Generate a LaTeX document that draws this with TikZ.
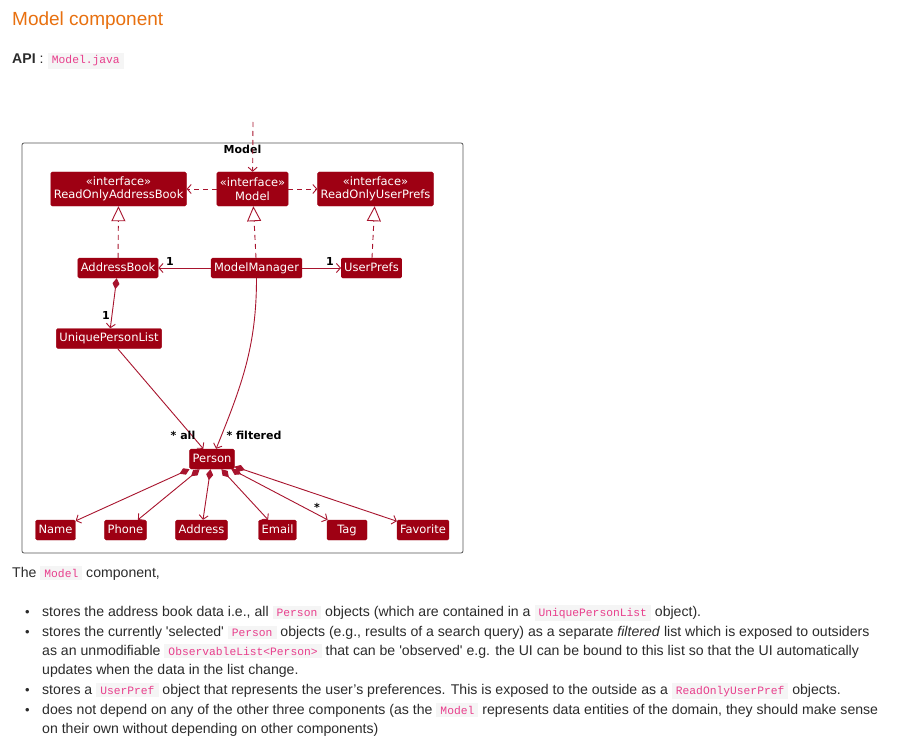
\documentclass[tikz,border=0pt]{standalone}
\usepackage{fontspec}
\setmainfont{Liberation Sans}
\setmonofont{Liberation Mono}
\newfontfamily\umlfont{DejaVu Sans}
\usepackage{xcolor}
\usepackage{tikz}
\usetikzlibrary{arrows.meta, positioning, calc}
\definecolor{heading}{HTML}{E8700F}
\definecolor{bodytext}{HTML}{2B2B2B}
\definecolor{codepink}{HTML}{E83E8C}
\definecolor{codebg}{HTML}{F5F5F5}
\definecolor{umlfill}{HTML}{9E0013}
\definecolor{umlline}{HTML}{A8142E}
\definecolor{framegray}{HTML}{555555}
\newcommand{\code}[1]{{\setlength{\fboxsep}{2.5pt}\colorbox{codebg}{\hspace{1.5pt}%
    \fontsize{11.3}{13}\ttfamily\color{codepink}#1\hspace{1.5pt}}}}
\newcommand{\bul}{\makebox[17pt][l]{\fontsize{13}{14}\selectfont\textbullet}}

\begin{document}
\begin{tikzpicture}[
    x=1pt, y=-1pt,
    umlbase/.style={rectangle, fill=umlfill, draw=umlfill, rounded corners=1.5pt,
                    text=white, font=\umlfont\fontsize{11.5}{13.5}\selectfont,
                    inner xsep=3pt, inner ysep=1pt, minimum height=20pt},
    umlclass/.style={umlbase, text height=8.8pt, text depth=2.6pt},
    iface/.style={umlbase, align=center, minimum height=34pt},
    umllabel/.style={font=\umlfont\bfseries\fontsize{11}{13}\selectfont,
                     inner sep=0pt, text=black},
    pkgframe/.style={rectangle, draw=framegray, rounded corners=2pt,
                     line width=0.8pt},
    assoc/.style={draw=umlline, line width=0.9pt,
                  -{Straight Barb[length=4pt, width=9pt]}},
    dep/.style={assoc, dash pattern=on 5pt off 4pt},
    realize/.style={draw=umlline, line width=0.9pt, dash pattern=on 5pt off 4pt,
                    -{Triangle[open, length=15pt, width=14pt, fill=white]}},
    comp/.style={draw=umlline, line width=0.9pt,
                 {Diamond[length=11pt, width=7pt]}-{Straight Barb[length=4pt, width=9pt]}},
    bodytxt/.style={anchor=base west, inner sep=0pt, text=bodytext,
                    font=\fontsize{14.1}{16}\selectfont}
]

\path[use as bounding box, fill=white] (0,0) rectangle (900,749);

% page header
\node[bodytxt, text=heading, font=\fontsize{19}{22}\selectfont] (title) at (12,26)
     {Model component};
\node[bodytxt] (api) at (12,64) {{\bfseries API} :};
\node[bodytxt, base right=4pt of api] (apifile) {\code{Model.java}};

% package frame
\node[pkgframe, minimum width=441pt, minimum height=410pt] (pkg) at (242.5,348) {};
\node[umllabel, below=2pt of pkg.north] (pkgtitle) {Model};

% interfaces
\node[iface] (model) at (252.5,189) {«interface»\\Model};
\node[iface, left=30pt of model] (roab) {«interface»\\ReadOnlyAddressBook};
\node[iface, right=29pt of model] (roup) {«interface»\\ReadOnlyUserPrefs};

% classes
\node[umlclass] (ab) at (118,268) {AddressBook};
\node[umlclass] (mm) at (256.5,268) {ModelManager};
\node[umlclass] (up) at (371.5,268) {UserPrefs};
\node[umlclass] (upl) at (109,338.5) {UniquePersonList};
\node[umlclass] (person) at (212,459) {Person};

\node[umlclass] (name) at (55.5,530) {Name};
\node[umlclass] (phone) at (125.5,530) {Phone};
\node[umlclass] (address) at (201.5,530) {Address};
\node[umlclass] (email) at (277.5,530) {Email};
\node[umlclass, minimum width=40pt] (tag) at (347,530) {Tag};
\node[umlclass] (favorite) at (423,530) {Favorite};

\coordinate (ext) at (253,122);

\draw[dep] (ext) -- (model);
\draw[dep] (model) -- (roab);
\draw[dep] (model) -- (roup);

\draw[realize] (ab) -- (roab);
\draw[realize] (mm) -- (model);
\draw[realize] (up) -- (roup);

\draw[assoc] (mm) -- (ab);
\draw[assoc] (mm) -- (up);
\draw[comp] (ab) -- (upl);
\draw[assoc] (upl) -- (person);
\draw[assoc] (mm) to[out=-90, in=68] (person);

\draw[comp] (person) -- (name);
\draw[comp] (person) -- (phone);
\draw[comp] (person) -- (address);
\draw[comp] (person) -- (email);
\draw[comp] (person) -- (tag);
\draw[comp] (person) -- (favorite);

% multiplicities
\node[umllabel] (multab) at (170,261) {1};
\node[umllabel] (multup) at (330,261) {1};
\node[umllabel] (multupl) at (106,315) {1};
\node[umllabel] (multall) at (183,435) {* all};
\node[umllabel] (multfilt) at (254,435) {* filtered};
\node[umllabel] (multtag) at (317,507) {*};

% description
\node[bodytxt] (intro) at (12,577) {The \code{Model} component,};
\node[bodytxt] (item1) at (25,616) {\bul stores the address book data i.e., all
     \code{Person} objects (which are contained in a \code{UniquePersonList} object).};
\node[bodytxt] (item2) at (25,636) {\bul stores the currently \textquotesingle
     selected\textquotesingle{} \code{Person} objects (e.g., results of a search query)
     as a separate \textit{filtered} list which is exposed to outsiders};
\node[bodytxt] (item2b) at (42,655) {as an unmodifiable \code{ObservableList<Person>}
     that can be \textquotesingle observed\textquotesingle{} e.g. the UI can be bound
     to this list so that the UI automatically};
\node[bodytxt] (item2c) at (42,674) {updates when the data in the list change.};
\node[bodytxt] (item3) at (25,694) {\bul stores a \code{UserPref} object that represents
     the user’s preferences. This is exposed to the outside as a
     \code{ReadOnlyUserPref} objects.};
\node[bodytxt] (item4) at (25,714) {\bul does not depend on any of the other three
     components (as the \code{Model} represents data entities of the domain, they
     should make sense};
\node[bodytxt] (item4b) at (42,733) {on their own without depending on other components)};

\end{tikzpicture}
\end{document}
